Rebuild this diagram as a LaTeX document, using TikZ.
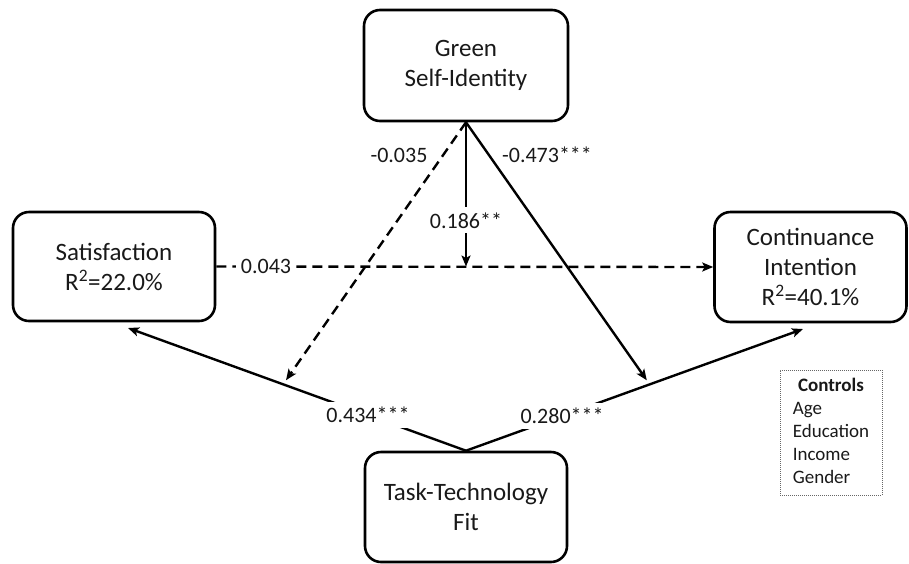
\documentclass[tikz,border=0pt]{standalone}
\usepackage{fontspec}
\setmainfont{Carlito}
\usetikzlibrary{arrows.meta,calc}
\definecolor{txt}{gray}{0.1}
\begin{document}
\begin{tikzpicture}[x=1pt,y=-1pt,
  box/.style={draw, line width=2.6pt, rounded corners=16pt, align=center, text=txt,
    font=\fontsize{25}{30}\selectfont, inner sep=0pt},
  arr/.style={line width=2.4pt, -{Stealth[length=11pt,width=9pt,inset=2.5pt]}},
  dsh/.style={arr, dash pattern=on 10pt off 6pt},
  lbl/.style={fill=white, text=txt, font=\fontsize{22}{26}\selectfont, inner sep=5pt},
  plainlbl/.style={text=txt, font=\fontsize{22}{26}\selectfont, inner sep=0pt},
]
\useasboundingbox (0,0) rectangle (909,563);

\node[box, minimum width=204pt, minimum height=111pt] (green) at (466,65.5) {Green\\Self-Identity};
\node[box, minimum width=202pt, minimum height=109pt] (sat) at (114,266.5) {Satisfaction\\R\textsuperscript{2}=22.0\%};
\node[box, minimum width=192pt, minimum height=110pt] (cont) at (810.5,267) {Continuance\\Intention\\R\textsuperscript{2}=40.1\%};
\node[box, minimum width=202pt, minimum height=110pt] (ttf) at (466,507) {Task-Technology\\Fit};

\node[draw=black!60, dash pattern=on 1pt off 1pt, line width=0.8pt, minimum width=102pt, minimum height=125pt,
  inner sep=0pt, text=txt, font=\fontsize{19}{23}\selectfont] (ctrl) at (831,432.5)
  {\begin{tabular}{@{}l@{}}\multicolumn{1}{@{}c@{}}{\textbf{Controls}}\\Age\\Education\\Income\\Gender\end{tabular}};

\coordinate (satin) at (128,328);
\coordinate (contin) at (803,329);
\coordinate (m1) at ($(ttf.north)!0.541!(satin)$);
\coordinate (m2) at ($(ttf.north)!0.545!(contin)$);

% Satisfaction -> Continuance
\draw[dsh] (sat.east) -- node[lbl, pos=0.1] {0.043} (cont.west);
% GSI moderation on Sat -> CI
\draw[arr] (green.south) -- node[lbl, pos=0.68] {0.186**} (green.south |- sat.east);
% TTF -> Sat, TTF -> CI
\draw[arr] (ttf.north) -- node[lbl, pos=0.29] {0.434***} (satin);
\draw[arr] (ttf.north) -- node[lbl, pos=0.285] {0.280***} (contin);
% GSI moderations on TTF paths
\draw[dsh, shorten >=5pt] (green.south) -- (m1);
\draw[arr, shorten >=5pt] (green.south) -- (m2);

\node[plainlbl] (l1) at (399,155) {-0.035};
\node[plainlbl] (l2) at (547,155) {-0.473***};
\end{tikzpicture}
\end{document}
